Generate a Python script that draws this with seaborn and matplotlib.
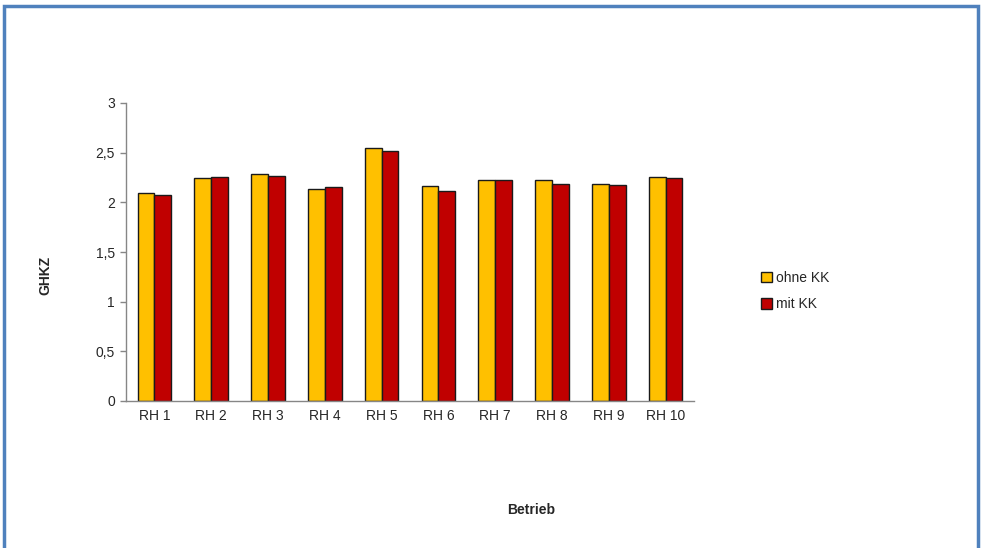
import pandas as pd
import seaborn as sns
import matplotlib.pyplot as plt
from matplotlib.patches import Rectangle, Patch

betriebe = ["RH 1", "RH 2", "RH 3", "RH 4", "RH 5", "RH 6", "RH 7", "RH 8", "RH 9", "RH 10"]
ohne_kk = [2.09, 2.25, 2.29, 2.13, 2.55, 2.16, 2.22, 2.22, 2.18, 2.26]
mit_kk = [2.07, 2.26, 2.27, 2.15, 2.52, 2.11, 2.22, 2.18, 2.17, 2.25]
serien = ["ohne KK", "mit KK"]
farben = ["#FFC000", "#C00000"]
y_ticks = [0, 0.5, 1, 1.5, 2, 2.5, 3]

df = pd.DataFrame({
    "Betrieb": betriebe * 2,
    "GHKZ": ohne_kk + mit_kk,
    "Serie": [serien[0]] * len(betriebe) + [serien[1]] * len(betriebe),
})

sns.set_style("white")
plt.rcParams["font.family"] = ["Liberation Sans", "DejaVu Sans"]

fig = plt.figure(figsize=(9.81, 5.48), dpi=100)
ax = fig.add_axes([126 / 981, 1 - 401 / 548, 568 / 981, 298 / 548])

sns.barplot(data=df, x="Betrieb", y="GHKZ", hue="Serie", palette=farben,
            saturation=1, width=0.59, gap=0, edgecolor="#1a1a1a", linewidth=1.0,
            legend=False, ax=ax)

ax.set_ylim(0, 3)
ax.set_xlim(-0.5, len(betriebe) - 0.5)
ax.set_yticks(y_ticks)
ax.set_yticklabels([f"{t:g}".replace(".", ",") for t in y_ticks], fontsize=10)
ax.set_xticks(range(len(betriebe)))
ax.set_xticklabels(betriebe, fontsize=10)
ax.set_xticks([i - 0.5 for i in range(len(betriebe) + 1)], minor=True)
ax.tick_params(axis="x", which="major", length=0, pad=6)
ax.tick_params(axis="x", which="minor", length=4, color="#868686", direction="out", width=1)
ax.tick_params(axis="y", length=4, color="#868686", direction="out", width=1, pad=4, left=True)

for s in ["top", "right"]:
    ax.spines[s].set_visible(False)
for s in ["left", "bottom"]:
    ax.spines[s].set_color("#868686")
    ax.spines[s].set_linewidth(1)

ax.set_xlabel("")
ax.set_ylabel("")
fig.text(45 / 981, 1 - 275 / 548, "GHKZ", rotation=90, fontsize=10,
         fontweight="bold", ha="center", va="center")
fig.text(531 / 981, 1 - 510 / 548, "Betrieb", fontsize=10,
         fontweight="bold", ha="center", va="center")

handles = [Patch(facecolor=c, edgecolor="#1a1a1a", linewidth=1.0, label=l)
           for c, l in zip(farben, serien)]
fig.legend(handles=handles, loc="center left", frameon=False, fontsize=10,
           bbox_to_anchor=(748 / 981, 1 - 291 / 548), handlelength=0.8,
           handleheight=0.8, handletextpad=0.3, labelspacing=0.9)

fig.patches.append(Rectangle((4 / 981, -0.1), 974 / 981, 1.1 - 6 / 548,
                             transform=fig.transFigure, fill=False,
                             edgecolor="#4F81BD", linewidth=2.5, clip_on=False))

fig.savefig("out.png", dpi=100)
